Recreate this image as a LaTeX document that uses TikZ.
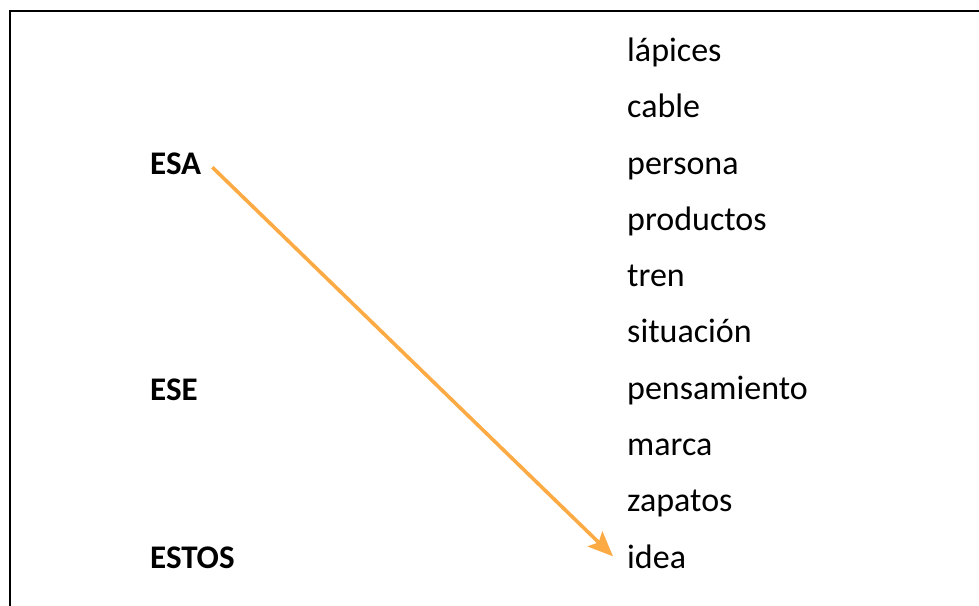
\documentclass[tikz,border=0pt]{standalone}
\usepackage{fontspec}
\setmainfont{Carlito}
\usetikzlibrary{arrows.meta}
\definecolor{arroworange}{RGB}{252,170,68}
\tikzset{
  word/.style={anchor=base west, inner sep=0pt, font=\fontsize{34}{40}\selectfont},
  keyword/.style={word, font=\fontsize{33}{40}\selectfont\bfseries},
  link/.style={draw=arroworange, line width=3.6pt, -{Stealth[length=25pt,width=21pt,inset=5pt]}}
}
\begin{document}
\begin{tikzpicture}[x=1pt,y=1pt]
\useasboundingbox (0,0) rectangle (979,-605);
\draw[line width=2.4pt] (10,-620) -- (10,-11) -- (990,-11);
% left column
\node[keyword] (esa) at (150,-174) {ESA};
\node[keyword] (ese) at (150,-400) {ESE};
\node[keyword] (estos) at (150,-568) {ESTOS};
% right column
\node[word] (w1) at (627,-61) {lápices};
\node[word] (w2) at (627,-117.5) {cable};
\node[word] (w3) at (627,-174) {persona};
\node[word] (w4) at (627,-230.3) {productos};
\node[word] (w5) at (627,-286.6) {tren};
\node[word] (w6) at (627,-342.9) {situación};
\node[word] (w7) at (627,-399.2) {pensamiento};
\node[word] (w8) at (627,-455.5) {marca};
\node[word] (w9) at (627,-511.8) {zapatos};
\node[word] (w10) at (627,-568) {idea};
\draw[link] ([xshift=11pt,yshift=-4pt]esa.east) -- ([xshift=-14pt]w10.west);
\end{tikzpicture}
\end{document}
